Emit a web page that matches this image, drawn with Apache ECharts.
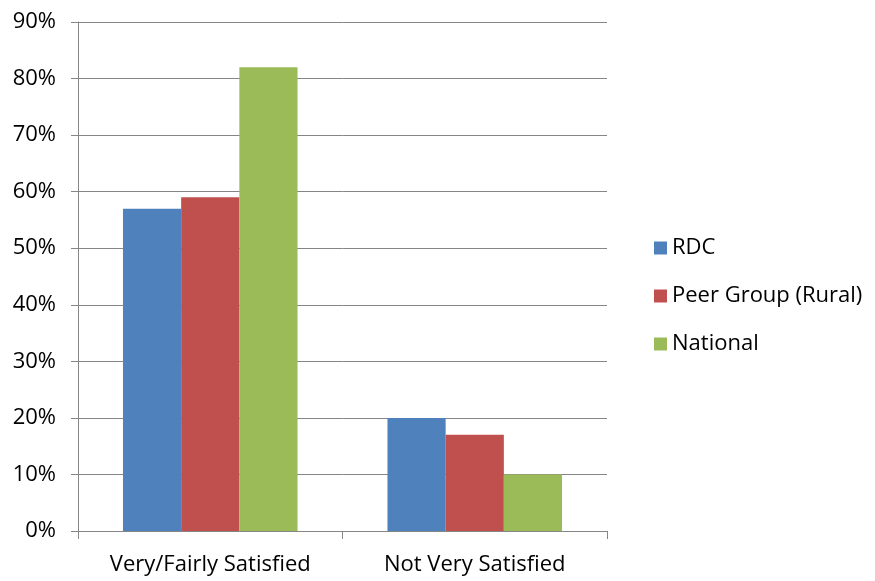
<!DOCTYPE html>
<html>
<head>
<meta charset="utf-8">
<script src="https://cdn.jsdelivr.net/npm/echarts@6/dist/echarts.min.js"></script>
<style>
  html, body { margin: 0; padding: 0; background: #fff; }
  #chart { width: 875px; height: 581px; }
</style>
</head>
<body>
<div id="chart"></div>
<script>
const categories = ["Very/Fairly Satisfied", "Not Very Satisfied"];
const rdc = [57, 20];
const peerGroup = [59, 17];
const national = [82, 10];
const yTicks = [0, 10, 20, 30, 40, 50, 60, 70, 80, 90];

const font = "Open Sans";
const chart = echarts.init(document.getElementById("chart"));

const option = {
  animation: false,
  color: ["#4f81bd", "#c0504d", "#9bbb59"],
  textStyle: { fontFamily: font },
  grid: {
    left: 78,
    right: 268,
    top: 22,
    bottom: 50
  },
  legend: {
    orient: "vertical",
    left: 649,
    top: 232,
    itemWidth: 13,
    itemHeight: 13,
    itemGap: 26,
    icon: "rect",
    textStyle: { fontSize: 22, color: "#000", fontFamily: font },
    data: ["RDC", "Peer Group (Rural)", "National"]
  },
  xAxis: {
    type: "category",
    data: categories,
    axisLine: { lineStyle: { color: "#868686" } },
    axisTick: { show: true, length: 8, lineStyle: { color: "#868686" } },
    axisLabel: { fontSize: 22, color: "#000", margin: 23, fontFamily: font }
  },
  yAxis: {
    type: "value",
    min: yTicks[0],
    max: yTicks[yTicks.length - 1],
    interval: 10,
    axisLine: { show: true, lineStyle: { color: "#868686" } },
    axisTick: { show: true, length: 7, lineStyle: { color: "#868686" } },
    splitLine: { lineStyle: { color: "#868686" } },
    axisLabel: {
      fontSize: 22,
      color: "#000",
      margin: 22,
      fontFamily: font,
      formatter: "{value}%"
    }
  },
  series: [
    { name: "RDC", type: "bar", data: rdc, barGap: "0%", barCategoryGap: "34%" },
    { name: "Peer Group (Rural)", type: "bar", data: peerGroup, barGap: "0%", barCategoryGap: "34%" },
    { name: "National", type: "bar", data: national, barGap: "0%", barCategoryGap: "34%" }
  ]
};

chart.setOption(option);
</script>
</body>
</html>
